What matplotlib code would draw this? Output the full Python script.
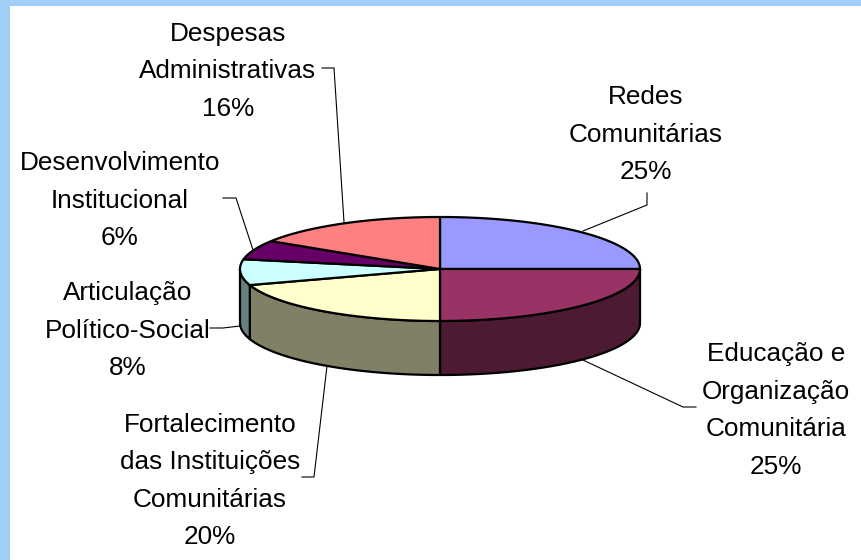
import numpy as np
import matplotlib
matplotlib.use('Agg')
import matplotlib.pyplot as plt
from matplotlib.patches import Polygon, Rectangle

plt.rcParams['font.family'] = ['Liberation Sans', 'DejaVu Sans']

# data
labels = ['Redes\nComunitárias', 'Educação e\nOrganização\nComunitária',
          'Fortalecimento\ndas Instituições\nComunitárias', 'Articulação\nPolítico-Social',
          'Desenvolvimento\nInstitucional', 'Despesas\nAdministrativas']
values = [25, 25, 20, 8, 6, 16]
top_colors = ['#9999FF', '#993366', '#FFFFCC', '#CCFFFF', '#660066', '#FF8080']
side_colors = ['#4D4D80', '#4D1A33', '#808066', '#668080', '#330033', '#804040']

# label centres (x, y of first line) and leader paths in pixels
label_pos = [(646, 97), (776, 354), (210, 425), (128, 293), (120, 163), (228, 34)]
leaders = [[(647, 193), (647, 205), (583, 231)],
           [(696, 407), (683, 407), (583, 360)],
           [(302, 477), (314, 477), (327, 366)],
           [(210, 328), (223, 328), (240, 326)],
           [(223, 198), (236, 198), (253, 250)],
           [(322, 68), (334, 68), (344, 222)]]

cx, cy, rx, ry, depth = 440, 269, 200, 52, 54
line_h = 37.5

fig = plt.figure(figsize=(8.62, 5.6), dpi=100, facecolor='white')
ax = fig.add_axes([0, 0, 1, 1])
ax.set_xlim(0, 862)
ax.set_ylim(560, 0)
ax.axis('off')

# frame
ax.add_patch(Rectangle((0, 0), 10, 560, fc='#A0CEF5', ec='none'))
ax.add_patch(Rectangle((0, 0), 862, 6, fc='#A0CEF5', ec='none'))


def rim(a0, a1, dy=0):
    # angles clockwise from the top of the pie, in degrees
    t = np.radians(np.linspace(a0, a1, 80))
    return np.column_stack([cx + rx * np.sin(t), cy - ry * np.cos(t) + dy])


edges = np.concatenate([[0], np.cumsum(values)]) * 3.6

# sides, only the front half of the pie shows them
for i in range(len(values)):
    a0, a1 = max(edges[i], 90), min(edges[i + 1], 270)
    if a1 <= a0:
        continue
    pts = np.vstack([rim(a0, a1), rim(a0, a1, depth)[::-1]])
    ax.add_patch(Polygon(pts, closed=True, fc=side_colors[i], ec='black', lw=1.6, joinstyle='round'))

# top
for i in range(len(values)):
    pts = np.vstack([[(cx, cy)], rim(edges[i], edges[i + 1])])
    ax.add_patch(Polygon(pts, closed=True, fc=top_colors[i], ec='black', lw=1.6, joinstyle='round'))

for path in leaders:
    xs, ys = zip(*path)
    ax.plot(xs, ys, color='black', lw=0.8)

for lab, v, (x, y) in zip(labels, values, label_pos):
    for j, line in enumerate((lab + '\n%d%%' % v).split('\n')):
        ax.text(x, y + j * line_h, line, ha='center', va='center', fontsize=18.8, color='black')

fig.savefig('out.png', dpi=100)
